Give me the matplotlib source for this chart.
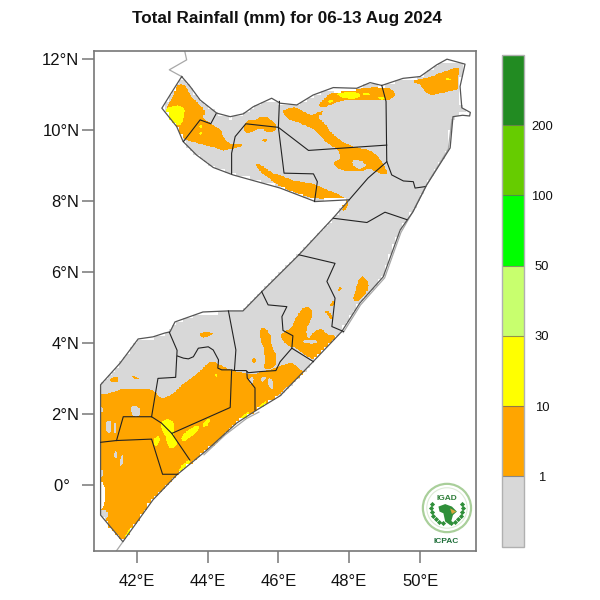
import numpy as np
import matplotlib
matplotlib.use("Agg")
import matplotlib.pyplot as plt
from matplotlib.path import Path
from matplotlib.colors import ListedColormap, BoundaryNorm
from matplotlib.colorbar import ColorbarBase
from matplotlib.patches import Circle, Polygon

plt.rcParams['font.family'] = ['Liberation Sans', 'DejaVu Sans']

TITLE = "Total Rainfall (mm) for 06-13 Aug 2024"
levels = [0, 1, 10, 30, 50, 100, 200, 300]
level_labels = ["1", "10", "30", "50", "100", "200"]
level_colors = ["#d8d8d8", "#ffa500", "#ffff00", "#c8ff6e", "#00ff00", "#66cc00", "#228b22"]
lon_ticks = [42, 44, 46, 48, 50]
lat_ticks = [0, 2, 4, 6, 8, 10, 12]

country = [(43.27,11.51),(43.51,11.23),(43.79,10.85),(44.26,10.48),(44.64,10.38),(45.01,10.46),(45.29,10.66),
 (45.81,10.90),(46.05,10.76),(46.52,10.71),(46.98,10.99),(47.55,11.2),(48.21,11.18),(48.59,11.34),(48.92,11.26),
 (49.52,11.46),(50.0,11.51),(50.47,11.84),(50.76,12.0),(51.27,11.86),(51.13,11.23),(51.18,10.63),(51.42,10.50),
 (51.40,10.40),(51.2,10.42),(50.93,10.38),(50.85,9.5),(50.19,8.46),(49.8,7.7),(49.44,7.19),(48.96,5.87),(48.3,5.13),
 (47.79,4.33),(46.98,3.48),(46.05,2.52),(45.39,2.12),(44.82,1.75),(43.98,0.99),(43.13,0.29),(42.46,-0.41),(41.61,-1.59),
 (40.98,-0.84),(40.98,2.83),(41.53,3.44),(42.04,4.12),(42.46,4.18),(42.80,4.29),(42.94,4.32),(43.08,4.60),(43.87,4.88),
 (44.58,4.91),(45.0,4.91),(45.53,5.45),(46.56,6.47),(47.55,7.53),(48.0,8.04),(47.04,7.99),(46.05,8.37),(44.72,8.74),
 (44.16,8.95),(43.69,9.3),(43.31,9.68),(43.13,10.1),(42.71,10.62),(42.94,10.99)]

regions = [
 [(40.98,1.21),(41.43,1.26),(42.42,1.30),(42.56,0.85),(42.73,0.31),(43.15,0.31)],
 [(41.43,1.26),(41.62,1.93),(42.42,1.93),(42.70,1.75),(42.99,1.46),(43.50,0.71)],
 [(42.92,4.31),(43.14,3.80),(43.10,3.04),(42.60,3.01),(42.42,1.93)],
 [(43.15,3.64),(43.32,3.58),(43.46,3.56),(43.60,3.62),(43.74,3.86),(44.02,3.90),(44.16,3.81),(44.31,3.53),(44.29,3.30),
  (44.40,3.25),(44.64,3.25),(44.78,3.23),(45.09,3.23),(45.15,3.17),(45.48,3.20),(45.93,3.23),(46.05,3.48),(46.38,3.86),
  (46.41,4.21),(46.13,4.36),(46.10,4.75),(46.24,5.03),(45.71,5.08),(45.53,5.45)],
 [(46.38,3.86),(46.99,3.48)],
 [(42.99,1.46),(44.64,2.19),(44.68,3.25)],
 [(45.11,3.20),(45.12,3.02),(45.34,2.74),(45.34,2.12)],
 [(44.59,4.91),(44.80,3.81),(44.76,3.25)],
 [(46.58,6.49),(47.60,6.25),(47.37,5.74),(47.60,5.27),(47.51,4.47),(47.84,4.33)],
 [(47.55,7.52),(48.50,7.40),(49.01,7.69),(49.63,7.48)],
 [(44.24,10.46),(44.09,10.18),(43.79,10.29),(43.32,9.68)],
 [(44.68,8.77),(44.68,9.35),(44.78,9.82),(45.08,10.18),(46.0,10.08)],
 [(46.03,10.81),(46.0,10.08),(46.16,8.79),(46.99,8.77),(47.10,8.55),(47.02,7.99)],
 [(46.0,10.08),(46.85,9.43),(49.06,9.58)],
 [(48.92,11.26),(49.04,10.81),(49.06,9.12),(49.20,8.74),(49.53,8.57),(49.81,8.55),(49.86,8.37),(50.14,8.41)],
 [(49.06,9.11),(48.53,8.65),(48.0,8.04)],
]

grey_lines = [
 [(43.27,11.51),(42.92,11.70),(43.41,11.98),(43.34,12.3)],
 [(41.61,-1.59),(41.39,-1.9)],
 [(50.90,10.30),(50.80,9.47),(50.16,8.42),(49.77,7.66),(49.46,7.12),(49.00,5.84),(48.32,5.08),(47.83,4.30)],
 [(43.90,0.86),(44.50,1.42),(45.10,1.88),(45.45,2.06)],
]

rain_10 = [
 [(43.22,11.32),(43.41,11.23),(43.50,10.99),(43.74,10.76),(43.98,10.48),(43.83,10.38),(44.07,10.19),(44.40,10.01),(44.45,9.77),
  (44.68,9.58),(44.99,9.63),(44.96,9.54),(44.68,9.47),(44.40,9.41),(44.16,9.54),(43.88,9.58),(43.60,9.68),(43.36,9.72),(43.22,9.91),
  (43.03,10.10),(42.89,10.29),(42.83,10.66),(42.99,10.85),(43.08,11.18)],
 [(45.11,10.29),(45.29,10.26),(45.58,10.41),(45.77,10.32),(45.95,10.15),(45.91,9.96),(45.67,9.94),(45.53,10.05),(45.29,9.98),(45.11,9.88),(45.01,10.05)],
 [(45.55,9.74),(45.68,9.74),(45.68,9.69),(45.55,9.69)],
 [(45.34,9.11),(45.58,8.97),(45.86,8.78),(46.05,8.74),(46.43,8.57),(46.99,8.50),(47.27,8.36),(47.65,8.22),(47.98,8.03),(47.93,7.75),
  (47.79,7.71),(47.84,7.89),(47.56,8.03),(46.99,8.08),(46.52,8.22),(46.05,8.41),(45.67,8.69),(45.43,8.88)],
 [(46.10,10.57),(46.52,10.66),(46.76,10.48),(46.99,10.43),(47.27,10.57),(47.23,10.45),(47.09,10.38),(47.32,10.19),(47.46,9.96),(47.74,9.72),
  (48.07,9.54),(48.59,9.44),(48.83,9.25),(48.97,9.02),(49.11,8.76),(48.83,8.78),(48.59,8.93),(48.31,8.83),(47.84,8.85),(47.60,8.97),
  (47.56,9.11),(47.79,9.21),(47.65,9.49),(47.37,9.63),(47.09,9.96),(46.85,10.10),(46.52,10.24),(46.29,10.29),(46.14,10.48)],
 [(47.51,11.09),(48.12,11.13),(48.64,11.23),(49.25,11.18),(49.30,10.90),(48.87,10.82),(48.31,10.85),(47.84,10.85),(47.46,10.71),(47.23,10.62),(47.13,10.71),(47.27,10.85)],
 [(49.77,11.41),(50.19,11.46),(51.04,11.79),(51.13,11.70),(51.04,11.37),(51.09,11.13),(50.76,11.09),(50.38,10.99),(50.15,11.04),(50.0,11.32),(49.91,11.29)],
 [(48.31,5.88),(48.45,5.86),(48.59,5.60),(48.40,5.32),(48.22,5.15),(48.10,5.22),(48.22,5.65)],
 [(47.70,5.46),(47.82,5.57),(47.72,5.58),(47.68,5.50)],
 [(47.45,5.10),(47.58,5.22),(47.60,5.12),(47.50,5.02)],
 [(47.30,4.89),(47.42,4.92),(47.56,4.70),(47.48,4.66),(47.40,4.80)],
 [(46.80,5.08),(46.99,4.89),(46.90,4.61),(46.76,4.33),(46.85,4.10),(46.99,4.33),(47.23,4.43),(47.37,4.24),(47.70,4.19),(47.42,3.96),(47.18,3.67),
  (46.99,3.53),(46.80,3.63),(46.43,3.91),(46.38,3.86),(46.13,4.05),(46.05,4.24),(46.19,4.33),(46.38,4.43),(46.52,4.80)],
 [(45.48,4.42),(45.67,4.42),(45.79,4.19),(45.81,3.91),(45.96,3.63),(45.91,3.30),(45.58,3.25),(45.63,3.53),(45.58,3.86),(45.47,4.19)],
 [(43.79,4.31),(44.03,4.33),(44.17,4.27),(43.98,4.17),(43.79,4.17)],
 [(45.26,3.58),(45.36,3.58),(45.36,3.44),(45.26,3.44)],
 [(41.20,3.01),(41.48,3.06),(41.48,2.92),(41.29,2.89)],
 [(41.86,3.11),(42.14,2.97),(41.90,3.00)],
 [(40.9,2.54),(41.24,2.59),(41.62,2.73),(42.09,2.73),(42.52,2.68),(42.66,2.42),(42.99,2.54),(43.27,2.83),(43.60,3.06),(43.88,3.30),
  (44.10,3.52),(44.35,3.39),(44.64,3.25),(45.01,3.16),(45.30,3.11),(45.53,3.20),(45.91,3.30),(46.38,3.49),(46.61,3.25),(46.80,3.20),
  (46.52,2.97),(46.14,2.69),(45.91,2.42),(46.2,2.3),(44.0,0.6),(42.0,-2.0),(40.8,-2.0),(40.8,2.5)],
]

rain_dry = [
 [(48.07,9.16),(48.31,9.16),(48.52,9.0),(48.31,8.91),(48.12,8.97)],
 [(46.71,4.10),(47.08,4.10),(47.08,3.98),(46.71,4.0)],
 [(41.81,2.26),(42.14,2.17),(42.05,1.89),(41.86,1.98)],
 [(41.10,1.79),(41.29,1.84),(41.29,1.51),(41.15,1.46)],
 [(41.36,1.79),(41.42,1.79),(41.42,1.46),(41.36,1.46)],
 [(41.39,0.99),(41.46,0.90),(41.43,0.76),(41.34,0.81)],
 [(41.57,0.85),(41.62,0.85),(41.60,0.57),(41.51,0.53)],
 [(40.9,0.43),(41.06,0.43),(41.06,0.24),(40.9,0.24)],
 [(40.9,2.2),(41.05,2.2),(41.05,2.05),(40.9,2.05)],
 [(40.9,-0.70),(41.2,-0.7),(41.15,-1.0),(40.9,-1.0)],
 [(45.18,3.02),(45.30,3.05),(45.28,2.85),(45.20,2.85)],
 [(45.53,3.05),(45.65,3.05),(45.60,2.93),(45.50,2.93)],
 [(45.68,3.02),(45.83,3.00),(45.88,2.68),(45.75,2.72)],
]

rain_30 = [
 [(42.83,10.66),(43.36,10.71),(43.34,10.29),(43.22,10.13),(42.99,10.19),(42.83,10.43)],
 [(43.77,10.14),(43.85,10.14),(43.85,10.06),(43.77,10.06)],
 [(43.77,9.95),(43.85,9.95),(43.85,9.87),(43.77,9.87)],
 [(47.56,11.04),(48.17,11.10),(48.36,10.99),(48.17,10.87),(47.84,10.90)],
 [(48.40,11.05),(48.60,11.03),(48.55,10.97),(48.40,10.98)],
 [(48.83,10.96),(49.02,10.93),(48.98,10.86),(48.83,10.88)],
 [(47.40,10.84),(47.55,10.85),(47.55,10.78),(47.40,10.76)],
 [(50.71,11.51),(50.90,11.41),(50.81,11.39),(50.71,11.43)],
 [(42.70,1.84),(42.99,1.86),(43.08,1.65),(43.03,1.42),(43.18,1.18),(43.03,1.04),(42.89,1.04),(42.83,1.37),(42.66,1.61)],
 [(42.47,1.28),(42.61,1.42),(42.68,1.28),(42.52,1.04)],
 [(43.27,1.42),(43.60,1.65),(43.77,1.70),(43.74,1.51),(43.41,1.28),(43.27,1.23)],
 [(43.88,1.79),(44.12,1.93),(44.02,1.70),(43.88,1.60)],
 [(44.21,3.15),(44.28,3.11),(44.24,3.04)],
 [(44.92,1.92),(45.15,2.08),(45.2,2.0),(44.98,1.8)],
 [(45.45,2.25),(45.70,2.40),(45.6,2.2),(45.4,2.1)],
 [(43.2,0.5),(43.5,0.75),(43.5,0.6),(43.2,0.35)],
 [(41.65,-1.45),(41.85,-1.15),(41.9,-1.2),(41.7,-1.5)],
]

rain_missing = [
 [(40.9,0.10),(41.10,0.10),(41.10,-0.65),(40.9,-0.65)],
 [(47.58,11.12),(47.78,11.12),(47.78,11.04),(47.58,11.04)],
]

# logo parts
logo_center = (50.76, -0.64)
logo_africa = [(50.52,-0.60),(50.71,-0.53),(50.90,-0.60),(51.04,-0.74),(50.93,-0.84),(50.85,-1.12),(50.71,-1.02),(50.66,-0.79),(50.55,-0.74)]
logo_horn = [(50.85,-0.65),(51.02,-0.74),(50.90,-0.81)]
leaf_angles = [165, 180, 195, 210, 225, 240, 255, 285, 300, 315, 330, 345, 360, 375]

fig = plt.figure(figsize=(6, 6), dpi=100)
ax = fig.add_axes([93.5/600, (600-550.6)/600, 382.5/600, 499.6/600])
ax.set_xlim(40.78, 51.58)
ax.set_ylim(-1.84, 12.23)

lon_edges = np.arange(40.8, 51.6001, 0.02)
lat_edges = np.arange(-1.9, 12.3001, 0.02)
lon_c = 0.5 * (lon_edges[:-1] + lon_edges[1:])
lat_c = 0.5 * (lat_edges[:-1] + lat_edges[1:])
LON, LAT = np.meshgrid(lon_c, lat_c)
pts = np.column_stack([LON.ravel(), LAT.ravel()])


def rounded(poly, passes=2):
    # corner cutting, so the traced outlines read as smooth contours
    p = np.asarray(poly, dtype=float)
    for _ in range(passes):
        q = np.roll(p, -1, axis=0)
        p = np.column_stack([0.75 * p + 0.25 * q, 0.25 * p + 0.75 * q]).reshape(-1, 2)
    return p


def inside(poly):
    return Path(rounded(poly)).contains_points(pts).reshape(LON.shape)


coarse_lon = np.arange(40.8, 51.7, 0.1)
coarse_lat = np.arange(-1.9, 12.4, 0.1)
CLON, CLAT = np.meshgrid(coarse_lon, coarse_lat)
cin = Path(country).contains_points(np.column_stack([CLON.ravel(), CLAT.ravel()])).reshape(CLON.shape).astype(int)
cell_ok = (cin[:-1, :-1] + cin[1:, :-1] + cin[:-1, 1:] + cin[1:, 1:]) >= 3
ii = np.clip(((LAT + 1.9) / 0.1).astype(int), 0, cell_ok.shape[0] - 1)
jj = np.clip(((LON - 40.8) / 0.1).astype(int), 0, cell_ok.shape[1] - 1)
mask = cell_ok[ii, jj]

field = np.full(LON.shape, 0.5)
for p in rain_10:
    field[inside(p)] = 5.0
for p in rain_dry:
    field[inside(p)] = 0.5
for p in rain_30:
    field[inside(p)] = 20.0
for p in rain_missing:
    field[inside(p)] = np.nan
field[~mask] = np.nan

cmap = ListedColormap(level_colors)
cmap.set_bad("white")
norm = BoundaryNorm(levels, cmap.N)
ax.pcolormesh(lon_edges, lat_edges, np.ma.masked_invalid(field), cmap=cmap, norm=norm, rasterized=True)

for line in grey_lines:
    xy = np.array(line)
    ax.plot(xy[:, 0], xy[:, 1], color="#a8a8a8", lw=0.9, solid_joinstyle="round")
xy = np.array(country + [country[0]])
ax.plot(xy[:, 0], xy[:, 1], color="#555555", lw=0.9)
for line in regions:
    xy = np.array(line)
    ax.plot(xy[:, 0], xy[:, 1], color="#222222", lw=0.8)

# logo
cx, cy = logo_center
ax.add_patch(Circle(logo_center, 0.68, fc="white", ec="#a9cf9a", lw=1.6))
ax.add_patch(Circle(logo_center, 0.57, fc="white", ec="#dcebd6", lw=0.8))
ax.add_patch(Polygon(logo_africa, fc="#2f8f3a", ec="none"))
ax.add_patch(Polygon(logo_horn, fc="#d8a63c", ec="none"))
ang = np.deg2rad(np.array(leaf_angles, dtype=float))
ax.scatter(cx + 0.45 * np.cos(ang), cy + 0.45 * np.sin(ang), s=7, marker="D", color="#2f8f3a", lw=0)
ax.text(cx, -0.38, "IGAD", ha="center", va="center", fontsize=6, fontweight="bold", color="#2f7f3a")
ax.text(cx - 0.02, -1.59, "ICPAC", ha="center", va="center", fontsize=6, fontweight="bold", color="#1f6f3a")

ax.set_xticks(lon_ticks)
ax.set_xticklabels([f"{v}°E" for v in lon_ticks])
ax.set_yticks(lat_ticks)
ax.set_yticklabels([("0°  " if v == 0 else f"{v}°N") for v in lat_ticks])
ax.tick_params(axis="x", direction="out", length=8.6, width=1.1, color="#777777", labelsize=12, pad=8.5, labelcolor="#111111")
ax.tick_params(axis="y", direction="out", length=8.6, width=1.1, color="#777777", labelsize=12, pad=1.5, labelcolor="#111111")
for s in ax.spines.values():
    s.set_color("#777777")
    s.set_linewidth(1.2)

fig.text(287/600, 1 - 19/600, TITLE, ha="center", va="center", fontsize=12.3, fontweight="bold", color="#111111")

cax = fig.add_axes([501.7/600, (600-546.7)/600, 22.3/600, 491.7/600])
cb = ColorbarBase(cax, cmap=cmap, norm=norm, boundaries=levels, spacing="uniform",
                  ticks=levels[1:-1], drawedges=True)
cb.ax.minorticks_off()
cb.ax.set_yticklabels(level_labels)
cb.ax.tick_params(which="both", length=0, labelsize=9.4, pad=12.8)
for t in cb.ax.get_yticklabels():
    t.set_ha("center")
    t.set_color("#111111")
cb.dividers.set_color("#666666")
cb.dividers.set_alpha(0.7)
cb.dividers.set_linewidth(0.8)
cb.outline.set_edgecolor("#b0b0b0")
cb.outline.set_linewidth(1.0)

fig.savefig("out.png", dpi=100)
